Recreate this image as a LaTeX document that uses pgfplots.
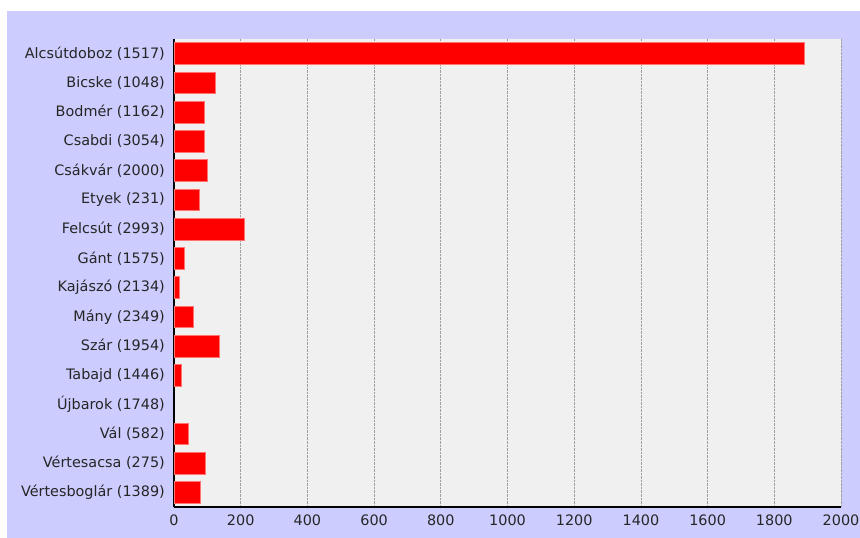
\documentclass[border=0pt]{standalone}
\usepackage{pgfplots}
\pgfplotsset{compat=1.18}
\usepackage{fontspec}
\setmainfont{DejaVu Sans}
\definecolor{lav}{RGB}{204,204,255}
\definecolor{plotbg}{RGB}{240,240,240}
\begin{document}
\begin{tikzpicture}[x=1bp,y=1bp]
\path[use as bounding box] (0,0) rectangle (860,538);
\fill[white] (0,0) rectangle (860,538);
\fill[lav] (7,0) rectangle (860,527);
\begin{axis}[
 at={(174bp,31bp)}, anchor=south west,
 scale only axis, width=667bp, height=468bp,
 xbar, bar width=21.7bp,
 xmin=0, xmax=2000, ymin=-0.5, ymax=15.5, y dir=reverse,
 ytick={0,...,15},
 yticklabels={Alcsútdoboz (1517),Bicske (1048),Bodmér (1162),Csabdi (3054),Csákvár (2000),Etyek (231),Felcsút (2993),Gánt (1575),Kajászó (2134),Mány (2349),Szár (1954),Tabajd (1446),Újbarok (1748),Vál (582),Vértesacsa (275),Vértesboglár (1389)},
 xtick={0,200,...,2000},
 xmajorgrids, major grid style={densely dotted, gray!75, line width=0.8bp},
 axis background/.style={fill=plotbg},
 axis lines*=left, axis line style={-, black, line width=1.3bp},
 major tick length=0pt,
 /pgf/number format/assume math mode=true,
 /pgf/number format/1000 sep={},
 tick label style={font=\fontsize{14.45}{17}\selectfont, text=black!85},
 yticklabel style={anchor=east, inner sep=0pt, xshift=-9bp},
 xticklabel style={anchor=north, inner sep=0pt, yshift=-8bp},
]
% Újbarok (row 12) has value 0 and draws no bar
\addplot[fill=red, draw=red!55!white, line width=0.8bp] coordinates {
(1889,0) (123,1) (91,2) (91,3) (100,4) (76,5) (212,6) (31,7) (15,8) (58,9) (136,10) (22,11) (43,13) (95,14) (79,15)};
\end{axis}
\end{tikzpicture}
\end{document}
